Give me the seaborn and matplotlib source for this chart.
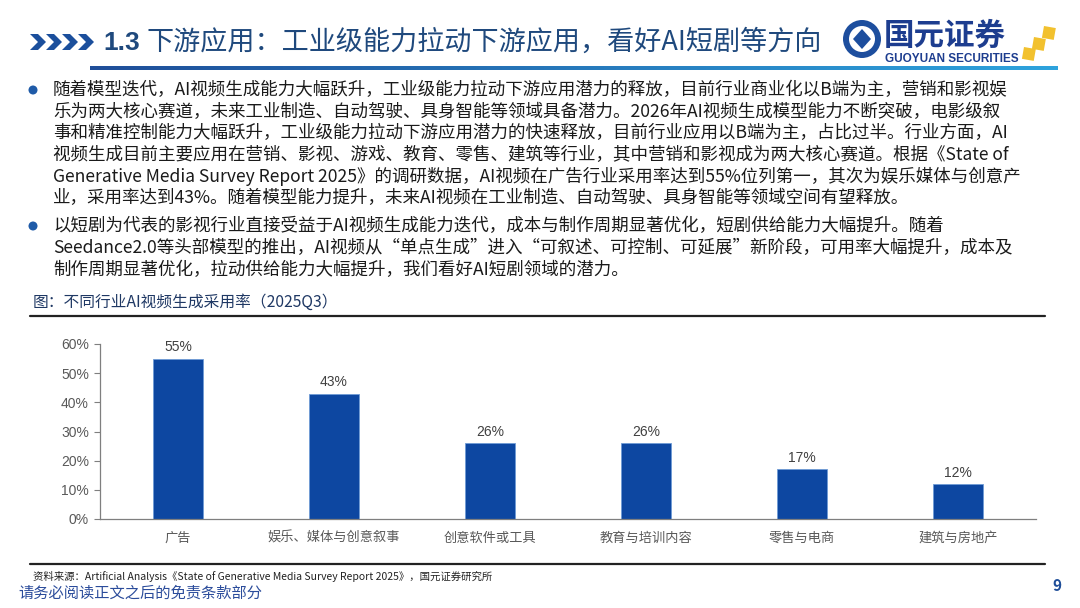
import numpy as np
import matplotlib
matplotlib.use("Agg")
import matplotlib.pyplot as plt
import seaborn as sns
from matplotlib.patches import Polygon, Circle, Rectangle
from matplotlib.colors import LinearSegmentedColormap

# chart data
categories = ["广告", "娱乐、媒体与创意叙事", "创意软件或工具", "教育与培训内容", "零售与电商", "建筑与房地产"]
adoption_pct = [55, 43, 26, 26, 17, 12]
y_ticks = [0, 10, 20, 30, 40, 50, 60]

title_num = "1.3"
title = "下游应用：工业级能力拉动下游应用，看好AI短剧等方向"
para1 = [
    "随着模型迭代，AI视频生成能力大幅跃升，工业级能力拉动下游应用潜力的释放，目前行业商业化以B端为主，营销和影视娱",
    "乐为两大核心赛道，未来工业制造、自动驾驶、具身智能等领域具备潜力。2026年AI视频生成模型能力不断突破，电影级叙",
    "事和精准控制能力大幅跃升，工业级能力拉动下游应用潜力的快速释放，目前行业应用以B端为主，占比过半。行业方面，AI",
    "视频生成目前主要应用在营销、影视、游戏、教育、零售、建筑等行业，其中营销和影视成为两大核心赛道。根据《State of",
    "Generative Media Survey Report 2025》的调研数据，AI视频在广告行业采用率达到55%位列第一，其次为娱乐媒体与创意产",
    "业，采用率达到43%。随着模型能力提升，未来AI视频在工业制造、自动驾驶、具身智能等领域空间有望释放。",
]
para2 = [
    "以短剧为代表的影视行业直接受益于AI视频生成能力迭代，成本与制作周期显著优化，短剧供给能力大幅提升。随着",
    "Seedance2.0等头部模型的推出，AI视频从“单点生成”进入“可叙述、可控制、可延展”新阶段，可用率大幅提升，成本及",
    "制作周期显著优化，拉动供给能力大幅提升，我们看好AI短剧领域的潜力。",
]
caption = "图：不同行业AI视频生成采用率（2025Q3）"
source = "资料来源：Artificial Analysis《State of Generative Media Survey Report 2025》，国元证券研究所"
footer = "请务必阅读正文之后的免责条款部分"

BLUE = "#0D47A1"
TITLE_BLUE = "#1F497D"

sns.set_theme(style="white")
plt.rcParams["font.family"] = ["Noto Sans CJK SC", "DejaVu Sans"]

fig = plt.figure(figsize=(10.8, 6.08), dpi=100)
fig.patch.set_facecolor("white")

# overlay in pixel coordinates for the slide decoration
bg = fig.add_axes([0, 0, 1, 1])
bg.set_xlim(0, 1080)
bg.set_ylim(608, 0)
bg.axis("off")

# chevrons
for x0 in [30, 46, 62, 78]:
    bg.add_patch(Polygon([(x0, 34), (x0 + 8, 34), (x0 + 16, 42), (x0 + 8, 50), (x0, 50), (x0 + 8, 42)],
                         closed=True, color="#1B4F9C", lw=0))

bg.text(103, 43, title_num, fontsize=19, fontweight="bold", color=TITLE_BLUE, va="center", ha="left",
        family="Liberation Sans")
bg.text(146, 42, title, fontsize=19.5, color=TITLE_BLUE, va="center", ha="left")

# gradient rule under the title
grad = np.linspace(0, 1, 256).reshape(1, -1)
cmap = LinearSegmentedColormap.from_list("rule", ["#1F4E99", "#2EA3DD"])
bg.imshow(grad, extent=[90, 1058, 70, 66], cmap=cmap, aspect="auto", zorder=1)

# logo
bg.add_patch(Circle((862, 39), 19, color="#1D4E9E", lw=0))
bg.add_patch(Circle((862, 39), 13, color="white", lw=0))
bg.add_patch(Polygon([(862, 29), (871, 39), (862, 49), (853, 39)], closed=True, color="#1D4E9E", lw=0))
bg.text(884, 36, "国元证券", fontsize=22, fontweight="bold", color="#1D3D8F", va="center", ha="left")
bg.text(885, 59, "GUOYUAN SECURITIES", fontsize=8.5, fontweight="bold", color="#1D3D8F",
        va="center", ha="left", family="Liberation Sans")
for (sx, sy) in [(1024, 47), (1034, 37), (1044, 26)]:
    bg.add_patch(Rectangle((sx, sy), 12, 12, angle=10, color="#F2C12E", lw=0))

bg.set_xlim(0, 1080)
bg.set_ylim(608, 0)

# body text
for i, line in enumerate(para1):
    bg.text(53, 90 + i * 21.7, line, fontsize=12.6, color="#1A1A1A", va="center", ha="left")
for i, line in enumerate(para2):
    bg.text(53, 226 + i * 22, line, fontsize=12.6, color="#1A1A1A", va="center", ha="left")
for by in [90, 226]:
    bg.add_patch(Circle((33, by), 4.5, color="#1F5BA8", lw=0))

# caption and rules
bg.text(33, 302, caption, fontsize=11.3, color="#1F3864", va="center", ha="left")
bg.plot([30, 1045], [316, 316], color="#222222", lw=1.6)
bg.plot([30, 1045], [564, 564], color="#222222", lw=1.6)
bg.text(33, 576, source, fontsize=7.5, color="#222222", va="center", ha="left")
bg.text(18, 593, footer, fontsize=11, color="#2B4C9B", va="center", ha="left")
bg.text(1057, 586, "9", fontsize=11, color="#1F4E99", va="center", ha="center", fontweight="bold")

# bar chart
ax = fig.add_axes([100 / 1080, 1 - 519 / 608, 936 / 1080, 175 / 608])
sns.barplot(x=categories, y=adoption_pct, color=BLUE, width=0.32, saturation=1, ax=ax,
            edgecolor="#6F9BD6", linewidth=0.6)
ax.set_ylim(0, 60)
ax.set_xlim(-0.5, len(categories) - 0.5)
ax.set_yticks(y_ticks)
ax.set_yticklabels([f"{t}%" for t in y_ticks], family="Liberation Sans", fontsize=10, color="#595959")
ax.set_xticks(range(len(categories)))
ax.set_xticklabels(categories, fontsize=9.5, color="#595959")
ax.set_xticks(np.arange(-0.5, len(categories), 1.0), minor=True)
ax.tick_params(axis="x", which="major", length=0, pad=9)
ax.tick_params(axis="x", which="minor", direction="in", length=4, color="#7F7F7F", width=0.8)
ax.tick_params(axis="y", direction="out", length=4, color="#7F7F7F", width=0.8, pad=4, left=True)
for side in ["top", "right"]:
    ax.spines[side].set_visible(False)
for side in ["left", "bottom"]:
    ax.spines[side].set_color("#7F7F7F")
    ax.spines[side].set_linewidth(0.9)
ax.set_facecolor("none")
ax.bar_label(ax.containers[0], labels=[f"{v}%" for v in adoption_pct], padding=3,
             fontsize=10, color="#404040", family="Liberation Sans")

fig.savefig("out.png", dpi=100, facecolor="white")
